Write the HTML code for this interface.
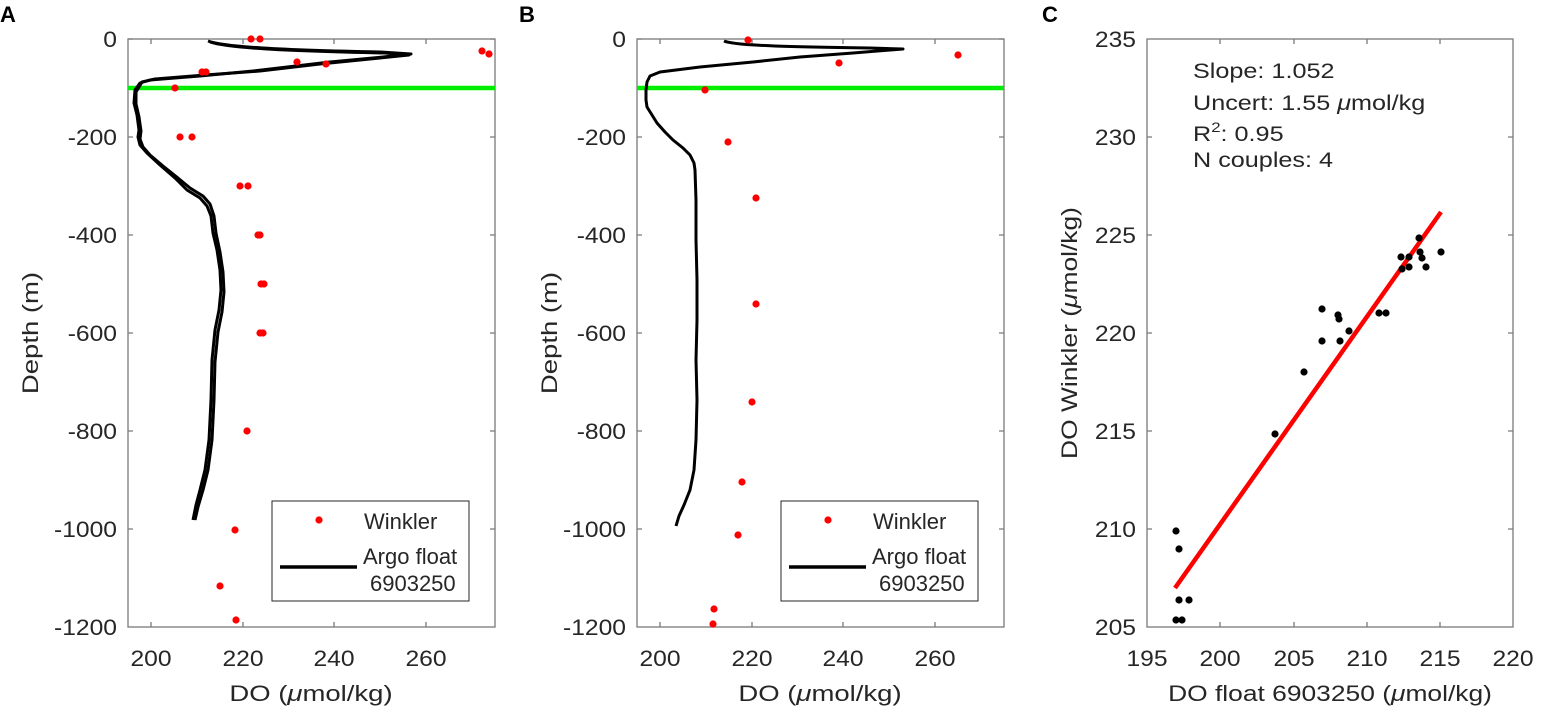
<!DOCTYPE html>
<html><head><meta charset="utf-8"><style>
body{margin:0;background:#fff}
svg{display:block}
text{font-family:"Liberation Sans",Arial,sans-serif;fill:#262626}
.t{font-size:22px}
.l{font-size:22px}
.g{font-size:22px}
.c{font-size:21px}
.p{font-size:22px;font-weight:bold;fill:#000}
</style></head><body>
<svg width="1544" height="717" viewBox="0 0 1544 717" xmlns="http://www.w3.org/2000/svg">
<text class="p" x="0" y="22">A</text>
<text class="p" x="519" y="22">B</text>
<text class="p" x="1042" y="22">C</text>

<!-- ===== Panel A ===== -->
<g>
<rect x="128" y="39" width="367" height="588" fill="none" stroke="#7a7a7a" stroke-width="1.3"/>
<g stroke="#7a7a7a" stroke-width="1.3">
<path d="M151,39v5M243,39v5M334,39v5M426,39v5M151,627v-5M243,627v-5M334,627v-5M426,627v-5"/>
<path d="M128,39h5M128,137h5M128,235h5M128,333h5M128,431h5M128,529h5M495,39h-5M495,137h-5M495,235h-5M495,333h-5M495,431h-5M495,529h-5"/>
</g>
<g class="t" text-anchor="end">
<text transform="translate(117,47) scale(1.12,1)">0</text><text transform="translate(117,145) scale(1.12,1)">-200</text><text transform="translate(117,243) scale(1.12,1)">-400</text>
<text transform="translate(117,341) scale(1.12,1)">-600</text><text transform="translate(117,439) scale(1.12,1)">-800</text><text transform="translate(117,537) scale(1.12,1)">-1000</text><text transform="translate(117,635) scale(1.12,1)">-1200</text>
</g>
<g class="t" text-anchor="middle">
<text transform="translate(151,666) scale(1.12,1)">200</text><text transform="translate(243,666) scale(1.12,1)">220</text><text transform="translate(334,666) scale(1.12,1)">240</text><text transform="translate(426,666) scale(1.12,1)">260</text>
</g>
<text class="l" text-anchor="middle" transform="translate(311,701) scale(1.25,1)">DO (<tspan font-style="italic">μ</tspan>mol/kg)</text>
<text class="l" text-anchor="middle" transform="translate(38,333) rotate(-90) scale(1.25,1)">Depth (m)</text>
<line x1="128" y1="88" x2="495" y2="88" stroke="#00ee00" stroke-width="4.5"/>
<g fill="none" stroke="#000" stroke-width="3" stroke-linejoin="round">
<path d="M208,41 C225,47 280,50 380,52 L411,54 L383,57 L330,62 L253,71 L200,76 L150,80 L140,83 L135,90 L134,103 L137,115 L139,130 L138,137 L140,145 L147,153 L160,165 L175,178 L187,190 L200,198 L207,206 L211,216 L213,233 L217,250 L220,270 L221,290 L219,310 L215,330 L212,360 L211,400 L209,440 L205,470 L200,490 L196,505 L193,520"/>
<path d="M210,42 C228,48 285,51 385,53 L409,55 L380,58 L320,64 L260,71 L205,75 L155,79 L142,82 L136,92 L136,104 L139,117 L141,131 L140,139 L143,147 L150,155 L163,166 L178,178 L190,188 L203,196 L210,204 L214,216 L216,233 L220,252 L223,272 L224,292 L222,312 L218,332 L215,362 L214,400 L212,440 L208,470 L203,490 L198,507 L195,520"/>
</g>
<g fill="#ff0000">
<circle cx="251" cy="39" r="3.6"/><circle cx="260" cy="39" r="3.6"/><circle cx="482" cy="51" r="3.6"/><circle cx="489" cy="54" r="3.6"/>
<circle cx="297" cy="62" r="3.6"/><circle cx="326" cy="64" r="3.6"/><circle cx="202" cy="72" r="3.6"/><circle cx="206" cy="72" r="3.6"/>
<circle cx="175" cy="88" r="3.6"/><circle cx="180" cy="137" r="3.6"/><circle cx="192" cy="137" r="3.6"/>
<circle cx="240" cy="186" r="3.6"/><circle cx="248" cy="186" r="3.6"/><circle cx="258" cy="235" r="3.6"/><circle cx="260" cy="235" r="3.6"/>
<circle cx="261" cy="284" r="3.6"/><circle cx="264" cy="284" r="3.6"/><circle cx="260" cy="333" r="3.6"/><circle cx="263" cy="333" r="3.6"/>
<circle cx="247" cy="431" r="3.6"/><circle cx="235" cy="530" r="3.6"/><circle cx="220" cy="586" r="3.6"/><circle cx="236" cy="620" r="3.6"/>
</g>
<rect x="272" y="501" width="197" height="100" fill="#fff" stroke="#262626" stroke-width="1"/>
<circle cx="319" cy="520" r="3.6" fill="#ff0000"/>
<line x1="280" y1="567" x2="357" y2="567" stroke="#000" stroke-width="3.5"/>
<g class="g"><text x="364" y="529">Winkler</text><text x="363" y="564">Argo float</text><text x="370" y="591">6903250</text></g>
</g>

<!-- ===== Panel B ===== -->
<g>
<rect x="637" y="39" width="367" height="588" fill="none" stroke="#7a7a7a" stroke-width="1.3"/>
<g stroke="#7a7a7a" stroke-width="1.3">
<path d="M660,39v5M752,39v5M843,39v5M935,39v5M660,627v-5M752,627v-5M843,627v-5M935,627v-5"/>
<path d="M637,39h5M637,137h5M637,235h5M637,333h5M637,431h5M637,529h5M1004,39h-5M1004,137h-5M1004,235h-5M1004,333h-5M1004,431h-5M1004,529h-5"/>
</g>
<g class="t" text-anchor="end">
<text transform="translate(626,47) scale(1.12,1)">0</text><text transform="translate(626,145) scale(1.12,1)">-200</text><text transform="translate(626,243) scale(1.12,1)">-400</text>
<text transform="translate(626,341) scale(1.12,1)">-600</text><text transform="translate(626,439) scale(1.12,1)">-800</text><text transform="translate(626,537) scale(1.12,1)">-1000</text><text transform="translate(626,635) scale(1.12,1)">-1200</text>
</g>
<g class="t" text-anchor="middle">
<text transform="translate(660,666) scale(1.12,1)">200</text><text transform="translate(752,666) scale(1.12,1)">220</text><text transform="translate(843,666) scale(1.12,1)">240</text><text transform="translate(935,666) scale(1.12,1)">260</text>
</g>
<text class="l" text-anchor="middle" transform="translate(820,701) scale(1.25,1)">DO (<tspan font-style="italic">μ</tspan>mol/kg)</text>
<text class="l" text-anchor="middle" transform="translate(557,333) rotate(-90) scale(1.25,1)">Depth (m)</text>
<line x1="637" y1="88" x2="1004" y2="88" stroke="#00ee00" stroke-width="4.5"/>
<g fill="none" stroke="#000" stroke-width="3" stroke-linejoin="round">
<path d="M724,41 C735,46 800,47 870,48 L903,49 L853,53 L800,57 L753,62 L700,67 L660,72 L650,76 L647,82 L646,90 L646,100 L647,107 L652,115 L657,123 L665,132 L673,140 L683,148 L690,155 L694,163 L695,170 L696,200 L696,240 L697,280 L697,320 L696,360 L697,400 L696,440 L694,470 L690,490 L684,505 L679,516 L676,526"/>
</g>
<g fill="#ff0000">
<circle cx="748" cy="40" r="3.6"/><circle cx="958" cy="55" r="3.6"/><circle cx="839" cy="63" r="3.6"/><circle cx="705" cy="90" r="3.6"/>
<circle cx="728" cy="142" r="3.6"/><circle cx="756" cy="198" r="3.6"/><circle cx="756" cy="304" r="3.6"/><circle cx="752" cy="402" r="3.6"/>
<circle cx="742" cy="482" r="3.6"/><circle cx="738" cy="535" r="3.6"/><circle cx="714" cy="609" r="3.6"/><circle cx="713" cy="624" r="3.6"/>
</g>
<rect x="781" y="501" width="197" height="100" fill="#fff" stroke="#262626" stroke-width="1"/>
<circle cx="828" cy="520" r="3.6" fill="#ff0000"/>
<line x1="789" y1="567" x2="866" y2="567" stroke="#000" stroke-width="3.5"/>
<g class="g"><text x="873" y="529">Winkler</text><text x="872" y="564">Argo float</text><text x="879" y="591">6903250</text></g>
</g>

<!-- ===== Panel C ===== -->
<g>
<rect x="1147" y="39" width="366" height="588" fill="none" stroke="#7a7a7a" stroke-width="1.3"/>
<g stroke="#7a7a7a" stroke-width="1.3">
<path d="M1220,39v5M1294,39v5M1367,39v5M1440,39v5M1220,627v-5M1294,627v-5M1367,627v-5M1440,627v-5"/>
<path d="M1147,137h5M1147,235h5M1147,333h5M1147,431h5M1147,529h5M1513,137h-5M1513,235h-5M1513,333h-5M1513,431h-5M1513,529h-5"/>
</g>
<g class="t" text-anchor="end">
<text transform="translate(1136,47) scale(1.12,1)">235</text><text transform="translate(1136,145) scale(1.12,1)">230</text><text transform="translate(1136,243) scale(1.12,1)">225</text>
<text transform="translate(1136,341) scale(1.12,1)">220</text><text transform="translate(1136,439) scale(1.12,1)">215</text><text transform="translate(1136,537) scale(1.12,1)">210</text><text transform="translate(1136,635) scale(1.12,1)">205</text>
</g>
<g class="t" text-anchor="middle">
<text transform="translate(1147,666) scale(1.12,1)">195</text><text transform="translate(1220,666) scale(1.12,1)">200</text><text transform="translate(1294,666) scale(1.12,1)">205</text><text transform="translate(1367,666) scale(1.12,1)">210</text><text transform="translate(1440,666) scale(1.12,1)">215</text><text transform="translate(1513,666) scale(1.12,1)">220</text>
</g>
<text class="l" text-anchor="middle" transform="translate(1330,701) scale(1.2,1)">DO float 6903250 (<tspan font-style="italic">μ</tspan>mol/kg)</text>
<text class="l" text-anchor="middle" transform="translate(1077,333) rotate(-90) scale(1.2,1)">DO Winkler (<tspan font-style="italic">μ</tspan>mol/kg)</text>
<g class="c">
<text transform="translate(1193,78) scale(1.2,1)">Slope: 1.052</text>
<text transform="translate(1193,110) scale(1.2,1)">Uncert: 1.55 <tspan font-style="italic">μ</tspan>mol/kg</text>
<text transform="translate(1193,141) scale(1.2,1)">R<tspan font-size="14" dy="-9">2</tspan><tspan dy="9">: 0.95</tspan></text>
<text transform="translate(1193,167) scale(1.2,1)">N couples: 4</text>
</g>
<line x1="1175" y1="588" x2="1441" y2="212" stroke="#ff0000" stroke-width="4.5"/>
<g fill="#000">
<circle cx="1441" cy="252" r="3.6"/><circle cx="1419" cy="238" r="3.6"/><circle cx="1420" cy="252" r="3.6"/><circle cx="1422" cy="258" r="3.6"/>
<circle cx="1426" cy="267" r="3.6"/><circle cx="1401" cy="257" r="3.6"/><circle cx="1409" cy="257" r="3.6"/><circle cx="1409" cy="267" r="3.6"/>
<circle cx="1402" cy="269" r="3.6"/><circle cx="1379" cy="313" r="3.6"/><circle cx="1386" cy="313" r="3.6"/><circle cx="1322" cy="309" r="3.6"/>
<circle cx="1338" cy="315" r="3.6"/><circle cx="1339" cy="319" r="3.6"/><circle cx="1349" cy="331" r="3.6"/><circle cx="1322" cy="341" r="3.6"/>
<circle cx="1340" cy="341" r="3.6"/><circle cx="1304" cy="372" r="3.6"/><circle cx="1275" cy="434" r="3.6"/>
<circle cx="1176" cy="531" r="3.6"/><circle cx="1179" cy="549" r="3.6"/><circle cx="1179" cy="600" r="3.6"/><circle cx="1189" cy="600" r="3.6"/>
<circle cx="1176" cy="620" r="3.6"/><circle cx="1182" cy="620" r="3.6"/>
</g>
</g>
</svg>
</body></html>
